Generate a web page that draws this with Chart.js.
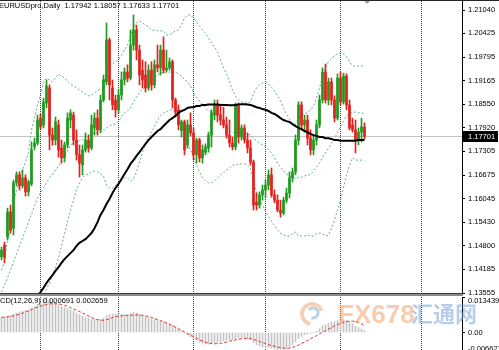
<!DOCTYPE html>
<html><head><meta charset="utf-8">
<script src="https://cdn.jsdelivr.net/npm/chart.js@4/dist/chart.umd.min.js"></script>
<style>
html,body{margin:0;padding:0;background:#fff;overflow:hidden;}
#wrap{position:relative;width:499px;height:350px;overflow:hidden;}
#main{position:absolute;left:0;top:0;}
#macd{position:absolute;left:0;top:293px;}
</style></head><body>
<div id="wrap"><canvas id="main" width="499" height="300"></canvas><canvas id="macd" width="499" height="57"></canvas></div>
<script>
const symbolTitle = 'EURUSDpro,Daily';
const lastQuote = [1.17942, 1.18057, 1.17633, 1.17701];
const macdTitle = 'MACD(12,26,9)';
const macdLast = ['0.000691', '0.002659'];
const watermarkLatin = 'FX678';
const watermarkCJK = '汇通网';

const opens = [1.1451,1.1482,1.1504,1.1570,1.1527,1.1647,1.1668,1.1639,1.1660,1.1623,
1.1644,1.1742,1.1752,1.1818,1.1800,1.1858,1.1898,1.1773,1.1760,1.1800,
1.1739,1.1713,1.1747,1.1813,1.1826,1.1760,1.1721,1.1694,1.1734,1.1760,
1.1739,1.1792,1.1818,1.1787,1.1866,1.1914,1.2025,1.1898,1.1866,1.1840,
1.1879,1.1919,1.1940,1.1924,1.2011,1.2051,1.1998,1.1945,1.1932,1.1898,
1.1945,1.1906,1.1959,1.1951,1.1998,1.1945,1.1951,1.1967,1.1866,1.1840,
1.1785,1.1808,1.1747,1.1800,1.1779,1.1721,1.1760,1.1713,1.1728,1.1739,
1.1773,1.1826,1.1853,1.1826,1.1813,1.1800,1.1773,1.1752,1.1742,1.1850,
1.1768,1.1792,1.1760,1.1739,1.1702,1.1596,1.1588,1.1615,1.1628,1.1641,
1.1668,1.1615,1.1601,1.1575,1.1567,1.1601,1.1620,1.1660,1.1676,1.1760,
1.1853,1.1800,1.1813,1.1765,1.1734,1.1760,1.1800,1.1866,1.1940,1.1866,
1.1914,1.1866,1.1818,1.1924,1.1861,1.1929,1.1853,1.1800,1.1787,1.1760,
1.1781,1.17942];
const highs = [1.1477,1.1490,1.1580,1.1588,1.1654,1.1676,1.1676,1.1681,1.1668,1.1654,
1.1755,1.1765,1.1826,1.1829,1.1871,1.1919,1.1906,1.1792,1.1821,1.1813,
1.1760,1.1755,1.1832,1.1840,1.1834,1.1787,1.1747,1.1747,1.1779,1.1773,
1.1826,1.1832,1.1840,1.1879,1.1932,1.2070,1.2030,1.1919,1.1879,1.1892,
1.1940,1.1951,1.1959,1.2051,1.2091,1.2064,1.2011,1.1972,1.1967,1.1959,
1.1967,1.1972,1.2011,1.2011,1.2033,1.1998,1.1977,1.1972,1.1871,1.1853,
1.1813,1.1813,1.1813,1.1832,1.1792,1.1765,1.1765,1.1747,1.1750,1.1781,
1.1840,1.1866,1.1866,1.1855,1.1847,1.1821,1.1813,1.1768,1.1858,1.1858,
1.1800,1.1800,1.1779,1.1760,1.1707,1.1620,1.1623,1.1641,1.1654,1.1681,
1.1686,1.1628,1.1615,1.1601,1.1609,1.1633,1.1676,1.1686,1.1773,1.1861,
1.1861,1.1826,1.1826,1.1787,1.1773,1.1813,1.1879,1.1951,1.1961,1.1924,
1.1924,1.1877,1.1935,1.1940,1.1937,1.1935,1.1866,1.1818,1.1813,1.1792,
1.1818,1.18057];
const lows = [1.1443,1.1435,1.1496,1.1514,1.1509,1.1639,1.1628,1.1633,1.1612,1.1612,
1.1639,1.1734,1.1747,1.1787,1.1792,1.1845,1.1734,1.1747,1.1747,1.1715,
1.1699,1.1702,1.1739,1.1792,1.1747,1.1707,1.1662,1.1668,1.1728,1.1728,
1.1734,1.1773,1.1773,1.1779,1.1861,1.1906,1.1866,1.1840,1.1821,1.1832,
1.1866,1.1906,1.1914,1.1919,1.1998,1.1972,1.1906,1.1898,1.1887,1.1892,
1.1892,1.1898,1.1940,1.1932,1.1937,1.1940,1.1945,1.1845,1.1821,1.1787,
1.1768,1.1721,1.1739,1.1771,1.1707,1.1699,1.1702,1.1699,1.1721,1.1728,
1.1742,1.1813,1.1808,1.1800,1.1792,1.1765,1.1742,1.1734,1.1734,1.1752,
1.1760,1.1752,1.1726,1.1694,1.1575,1.1575,1.1580,1.1601,1.1607,1.1628,
1.1609,1.1594,1.1570,1.1556,1.1562,1.1594,1.1607,1.1649,1.1668,1.1747,
1.1787,1.1781,1.1747,1.1721,1.1721,1.1747,1.1792,1.1858,1.1858,1.1853,
1.1853,1.1808,1.1813,1.1853,1.1855,1.1840,1.1787,1.1781,1.1726,1.1747,
1.1755,1.17633];
const closes = [1.1469,1.1451,1.1570,1.1522,1.1647,1.1668,1.1639,1.1660,1.1623,1.1649,
1.1734,1.1752,1.1813,1.1795,1.1861,1.1903,1.1773,1.1760,1.1808,1.1734,
1.1713,1.1747,1.1818,1.1832,1.1760,1.1721,1.1699,1.1734,1.1760,1.1739,
1.1800,1.1818,1.1787,1.1866,1.1919,1.2025,1.1906,1.1853,1.1840,1.1879,
1.1919,1.1940,1.1924,1.2011,1.2051,1.1998,1.1932,1.1919,1.1898,1.1945,
1.1906,1.1959,1.1951,1.1998,1.1945,1.1951,1.1967,1.1866,1.1834,1.1800,
1.1808,1.1734,1.1800,1.1779,1.1721,1.1760,1.1713,1.1734,1.1742,1.1773,
1.1832,1.1853,1.1826,1.1813,1.1800,1.1773,1.1752,1.1742,1.1850,1.1768,
1.1792,1.1760,1.1739,1.1702,1.1588,1.1588,1.1615,1.1628,1.1641,1.1668,
1.1615,1.1601,1.1575,1.1567,1.1601,1.1620,1.1660,1.1676,1.1760,1.1853,
1.1800,1.1813,1.1765,1.1734,1.1760,1.1800,1.1866,1.1940,1.1866,1.1914,
1.1866,1.1818,1.1924,1.1861,1.1929,1.1853,1.1792,1.1787,1.1760,1.1781,
1.1795,1.17701];

const movingAvg = [null,null,null,null,null,null,null,null,null,null,
1.1324,1.1337,1.1348,1.1358,1.1369,1.1382,1.1393,1.1403,1.1414,1.1424,
1.1435,1.1445,1.1453,1.1461,1.1469,1.1480,1.1488,1.1493,1.1498,1.1506,
1.1514,1.1527,1.1543,1.1562,1.1575,1.1591,1.1604,1.1620,1.1633,1.1644,
1.1657,1.1670,1.1683,1.1697,1.1707,1.1718,1.1728,1.1739,1.1750,1.1760,
1.1768,1.1776,1.1784,1.1789,1.1797,1.1805,1.1813,1.1818,1.1824,1.1832,
1.1837,1.1840,1.1845,1.1847,1.1847,1.1850,1.1850,1.1853,1.1853,1.1854,
1.1854,1.1854,1.1854,1.1853,1.1853,1.1853,1.1852,1.1852,1.1853,1.1854,
1.1855,1.1855,1.1854,1.1853,1.1850,1.1847,1.1845,1.1842,1.1840,1.1837,
1.1832,1.1829,1.1824,1.1818,1.1813,1.1810,1.1808,1.1802,1.1797,1.1792,
1.1789,1.1784,1.1781,1.1776,1.1773,1.1771,1.1768,1.1768,1.1765,1.1765,
1.1763,1.1760,1.1760,1.1758,1.1758,1.1758,1.1758,1.1758,1.1758,1.1760,
1.1760,1.1760];
const bbUpper = [1.1416,1.1438,1.1496,1.1517,1.1588,1.1628,1.1654,1.1681,1.1702,1.1728,
1.1787,1.1818,1.1853,1.1879,1.1914,1.1924,1.1919,1.1914,1.1924,1.1935,
1.1929,1.1924,1.1916,1.1908,1.1903,1.1898,1.1892,1.1887,1.1882,1.1877,
1.1879,1.1885,1.1890,1.1895,1.1903,1.1940,1.1956,1.1961,1.1967,1.1972,
1.1985,1.1998,1.2011,1.2038,1.2056,1.2070,1.2075,1.2070,1.2064,1.2059,
1.2051,1.2051,1.2049,1.2049,1.2049,1.2038,1.2038,1.2043,1.2049,1.2051,
1.2064,1.2083,1.2091,1.2091,1.2083,1.2072,1.2062,1.2051,1.2043,1.2030,
1.2017,1.2006,1.1993,1.1972,1.1951,1.1935,1.1914,1.1892,1.1877,1.1866,
1.1861,1.1858,1.1858,1.1861,1.1882,1.1898,1.1906,1.1911,1.1914,1.1908,
1.1900,1.1890,1.1877,1.1863,1.1845,1.1829,1.1816,1.1805,1.1802,1.1818,
1.1824,1.1829,1.1834,1.1840,1.1850,1.1871,1.1898,1.1929,1.1951,1.1967,
1.1977,1.1982,1.1988,1.1990,1.1988,1.1980,1.1967,1.1956,1.1956,1.1956,
1.1956,1.1953];
const bbMiddle = [1.1358,1.1377,1.1395,1.1416,1.1438,1.1459,1.1480,1.1501,1.1522,1.1543,
1.1564,1.1586,1.1607,1.1620,1.1633,1.1647,1.1660,1.1670,1.1681,1.1691,
1.1705,1.1718,1.1731,1.1747,1.1752,1.1755,1.1758,1.1760,1.1768,1.1773,
1.1776,1.1779,1.1779,1.1781,1.1784,1.1792,1.1797,1.1802,1.1802,1.1810,
1.1821,1.1832,1.1837,1.1845,1.1861,1.1874,1.1885,1.1895,1.1900,1.1911,
1.1916,1.1924,1.1932,1.1937,1.1940,1.1937,1.1940,1.1940,1.1940,1.1935,
1.1929,1.1919,1.1914,1.1903,1.1885,1.1874,1.1863,1.1853,1.1845,1.1837,
1.1834,1.1829,1.1821,1.1813,1.1805,1.1797,1.1787,1.1779,1.1781,1.1779,
1.1779,1.1779,1.1776,1.1773,1.1765,1.1758,1.1752,1.1747,1.1742,1.1736,
1.1726,1.1713,1.1699,1.1689,1.1678,1.1670,1.1665,1.1662,1.1657,1.1662,
1.1662,1.1665,1.1668,1.1668,1.1678,1.1689,1.1699,1.1715,1.1726,1.1739,
1.1752,1.1763,1.1781,1.1795,1.1810,1.1824,1.1829,1.1834,1.1834,1.1832,
1.1832,1.1829];
const bbLower = [1.1258,1.1263,1.1268,1.1274,1.1279,1.1284,1.1289,1.1295,1.1300,1.1305,
1.1311,1.1321,1.1332,1.1342,1.1350,1.1366,1.1382,1.1403,1.1424,1.1448,
1.1480,1.1512,1.1543,1.1575,1.1601,1.1628,1.1647,1.1660,1.1668,1.1670,
1.1676,1.1678,1.1676,1.1670,1.1665,1.1641,1.1633,1.1633,1.1639,1.1649,
1.1652,1.1660,1.1660,1.1652,1.1657,1.1676,1.1702,1.1728,1.1750,1.1768,
1.1781,1.1797,1.1813,1.1824,1.1832,1.1834,1.1840,1.1840,1.1832,1.1821,
1.1800,1.1768,1.1747,1.1734,1.1715,1.1694,1.1676,1.1660,1.1652,1.1647,
1.1647,1.1652,1.1660,1.1668,1.1673,1.1681,1.1686,1.1694,1.1694,1.1697,
1.1697,1.1697,1.1694,1.1686,1.1649,1.1623,1.1604,1.1588,1.1572,1.1559,
1.1546,1.1533,1.1522,1.1514,1.1509,1.1506,1.1506,1.1512,1.1517,1.1506,
1.1506,1.1506,1.1509,1.1506,1.1506,1.1512,1.1514,1.1512,1.1506,1.1509,
1.1527,1.1549,1.1575,1.1601,1.1633,1.1668,1.1694,1.1713,1.1707,1.1707,
1.1707,1.1705];

const macdMain = [0.0056,0.0058,0.0062,0.0064,0.0070,0.0074,0.0077,0.0080,0.0083,0.0085,
0.0092,0.0098,0.0106,0.0114,0.0126,0.0134,0.0126,0.0118,0.0110,0.0104,
0.0098,0.0094,0.0090,0.0086,0.0080,0.0074,0.0068,0.0062,0.0056,0.0053,
0.0050,0.0050,0.0048,0.0049,0.0054,0.0064,0.0068,0.0069,0.0070,0.0069,
0.0069,0.0069,0.0068,0.0072,0.0076,0.0074,0.0070,0.0065,0.0060,0.0056,
0.0052,0.0049,0.0046,0.0044,0.0040,0.0036,0.0032,0.0026,0.0020,0.0013,
0.0006,-0.0002,-0.0009,-0.0016,-0.0024,-0.0030,-0.0036,-0.0040,-0.0043,-0.0044,
-0.0043,-0.0040,-0.0037,-0.0034,-0.0031,-0.0029,-0.0028,-0.0027,-0.0023,-0.0022,
-0.0021,-0.0021,-0.0023,-0.0027,-0.0038,-0.0046,-0.0051,-0.0055,-0.0057,-0.0057,
-0.0059,-0.0062,-0.0065,-0.0066,-0.0064,-0.0060,-0.0054,-0.0048,-0.0036,-0.0022,
-0.0014,-0.0008,-0.0005,-0.0003,0.0000,0.0005,0.0014,0.0025,0.0029,0.0035,
0.0040,0.0040,0.0045,0.0045,0.0048,0.0046,0.0040,0.0033,0.0024,0.0018,
0.0013,0.000691];
const macdSignal = [0.0057,0.0058,0.0059,0.0061,0.0063,0.0066,0.0069,0.0073,0.0077,0.0082,
0.0087,0.0092,0.0096,0.0100,0.0103,0.0106,0.0108,0.0109,0.0109,0.0108,
0.0106,0.0103,0.0099,0.0094,0.0089,0.0084,0.0079,0.0074,0.0068,0.0062,
0.0057,0.0052,0.0049,0.0047,0.0046,0.0048,0.0052,0.0056,0.0060,0.0062,
0.0063,0.0064,0.0064,0.0065,0.0066,0.0067,0.0066,0.0065,0.0063,0.0060,
0.0057,0.0053,0.0049,0.0045,0.0041,0.0036,0.0031,0.0026,0.0020,0.0014,
0.0008,0.0002,-0.0004,-0.0010,-0.0016,-0.0022,-0.0028,-0.0033,-0.0037,-0.0040,
-0.0042,-0.0043,-0.0042,-0.0041,-0.0039,-0.0036,-0.0033,-0.0030,-0.0028,-0.0026,
-0.0024,-0.0023,-0.0022,-0.0023,-0.0026,-0.0030,-0.0034,-0.0038,-0.0042,-0.0046,
-0.0049,-0.0052,-0.0055,-0.0057,-0.0059,-0.0060,-0.0059,-0.0057,-0.0053,-0.0048,
-0.0042,-0.0036,-0.0030,-0.0024,-0.0018,-0.0012,-0.0006,0.0001,0.0007,0.0013,
0.0019,0.0025,0.0030,0.0034,0.0038,0.0041,0.0043,0.0043,0.0041,0.0038,
0.0033,0.002659];

const priceTicks = [1.21040,1.20425,1.19795,1.19165,1.18550,1.17920,1.17305,1.16675,1.16045,1.15430,1.14800,1.14185,1.13555];
const priceRange = [1.13555, 1.212781];
const macdTicks = [0.013439, 0, -0.006627];
const macdTickLabels = ['0.013439', '0.00', '-0.006627'];
const gridBars = [13, 39, 64, 88, 113, 140];
const SLOTS = 154;
const labels = Array.from({length: SLOTS}, (_, i) => 'D' + i);

const FONT = '"Liberation Sans", Arial, sans-serif';
const UP = '#1f9a1f', DN = '#e3211c';
const candleColors = closes.map((c, i) => c >= opens[i] ? UP : DN);
const BB = '#62ae90';

function noPad(s){ s.paddingTop = 0; s.paddingBottom = 0; }

function drawGrid(chart){
  const {ctx, chartArea: a, scales: {x}} = chart;
  ctx.save();
  ctx.strokeStyle = '#404040'; ctx.lineWidth = 1; ctx.setLineDash([1, 1]);
  gridBars.forEach(i => {
    const gx = Math.floor(x.getPixelForValue(i)) + 0.5;
    ctx.beginPath(); ctx.moveTo(gx, a.top); ctx.lineTo(gx, a.bottom); ctx.stroke();
  });
  ctx.restore();
}

const mainDecor = {
  id: 'mainDecor',
  beforeDatasetsDraw(chart){
    const {ctx, chartArea: a, scales: {y}} = chart;
    drawGrid(chart);
    ctx.save();
    const py = Math.round(y.getPixelForValue(lastQuote[3])) + 0.5;
    ctx.strokeStyle = '#c4c4c4'; ctx.lineWidth = 1;
    ctx.beginPath(); ctx.moveTo(a.left, py); ctx.lineTo(a.right, py); ctx.stroke();
    ctx.restore();
  },
  afterDraw(chart){
    const {ctx, chartArea: a, scales: {y}} = chart;
    ctx.save();
    // window top edge
    ctx.fillStyle = '#262626'; ctx.fillRect(0, 0, chart.width, 1);
    // chart shift marker
    ctx.fillStyle = '#a0a0a0';
    ctx.beginPath(); ctx.moveTo(364, 1); ctx.lineTo(370, 1); ctx.lineTo(367, 4); ctx.closePath(); ctx.fill();
    // title
    ctx.fillStyle = '#000'; ctx.font = '7.5px ' + FONT; ctx.textBaseline = 'middle'; ctx.textAlign = 'left';
    ctx.fillText(symbolTitle + '  ' + lastQuote.map(v => v.toFixed(5)).join(' '), -1, 6);
    // current price box
    const py = Math.round(y.getPixelForValue(lastQuote[3]));
    ctx.fillStyle = '#000'; ctx.fillRect(a.right + 1, py - 5, 35, 11);
    ctx.fillStyle = '#fff'; ctx.fillText(lastQuote[3].toFixed(5), a.right + 6, py + 0.5);
    // separator between panels
    ctx.fillStyle = '#8a8a8a'; ctx.fillRect(0, a.bottom, a.right + 1, 3);
    ctx.fillStyle = '#3c3c3c'; ctx.fillRect(0, a.bottom, a.right + 1, 1);
    ctx.restore();
  }
};

new Chart(document.getElementById('main'), {
  type: 'bar',
  data: {
    labels,
    datasets: [
      {type: 'line', data: bbUpper, borderColor: BB, borderWidth: 1, borderDash: [2, 2], pointRadius: 0, fill: false, order: 4},
      {type: 'line', data: bbMiddle, borderColor: BB, borderWidth: 1, borderDash: [2, 2], pointRadius: 0, fill: false, order: 4},
      {type: 'line', data: bbLower, borderColor: BB, borderWidth: 1, borderDash: [2, 2], pointRadius: 0, fill: false, order: 4},
      {type: 'bar', data: lows.map((l, i) => [l, highs[i]]), backgroundColor: candleColors, barThickness: 1, grouped: false, order: 3},
      {type: 'bar', data: opens.map((o, i) => [o, closes[i]]), backgroundColor: candleColors, barThickness: 2, minBarLength: 1, grouped: false, order: 2},
      {type: 'line', data: movingAvg, borderColor: '#000', borderWidth: 2, pointRadius: 0, fill: false, order: 1}
    ]
  },
  options: {
    responsive: false, animation: false, devicePixelRatio: 1,
    layout: {padding: {top: 1, bottom: 7, left: 0, right: 0}},
    plugins: {legend: {display: false}, tooltip: {enabled: false}},
    scales: {
      x: {display: false, offset: true},
      y: {
        position: 'right', min: priceRange[0], max: priceRange[1],
        afterBuildTicks: s => { s.ticks = priceTicks.map(v => ({value: v})); },
        afterFit: s => { s.width = 37; noPad(s); },
        ticks: {callback: v => Number(v).toFixed(5), font: {family: FONT, size: 7.5}, color: '#000', padding: 3},
        grid: {drawOnChartArea: false, tickLength: 3, color: '#000'},
        border: {color: '#000', width: 1}
      }
    }
  },
  plugins: [mainDecor]
});

const macdDecor = {
  id: 'macdDecor',
  beforeDatasetsDraw(chart){ drawGrid(chart); },
  afterDraw(chart){
    const {ctx, chartArea: a, scales: {y}} = chart;
    ctx.save();
    ctx.font = '7.5px ' + FONT; ctx.fillStyle = '#000'; ctx.textBaseline = 'middle'; ctx.textAlign = 'left';
    macdTicks.forEach((v, k) => {
      const py = y.getPixelForValue(v);
      const cy = Math.min(Math.max(py, a.top + 3), a.bottom - 2);
      ctx.fillText(macdTickLabels[k], a.right + 6, cy + 0.5);
    });
    const hide = ctx.measureText('MA').width;
    ctx.fillText(macdTitle + ' ' + macdLast.join(' '), -hide, a.top + 4);
    // watermark
    ctx.globalAlpha = 0.5;
    ctx.lineWidth = 4;
    ctx.strokeStyle = '#f0a070';
    ctx.beginPath(); ctx.arc(312, 21, 10, Math.PI * 0.55, Math.PI * 1.9); ctx.stroke();
    ctx.strokeStyle = '#7aa3d8'; ctx.lineWidth = 3;
    ctx.beginPath(); ctx.arc(313, 20, 5, Math.PI * 1.2, Math.PI * 2.6); ctx.stroke();
    ctx.textBaseline = 'alphabetic';
    ctx.fillStyle = '#f39a60';
    ctx.font = 'bold 26px "Liberation Sans Narrow", ' + FONT;
    ctx.fillText(watermarkLatin, 338, 30);
    ctx.fillStyle = '#6f9bd6';
    ctx.font = 'bold 22px "Noto Sans CJK SC"';
    ctx.fillText(watermarkCJK, 411, 29);
    ctx.restore();
  }
};

new Chart(document.getElementById('macd'), {
  type: 'bar',
  data: {
    labels,
    datasets: [
      {type: 'line', data: macdSignal, borderColor: '#e0302a', borderWidth: 1, borderDash: [3, 2], pointRadius: 0, fill: false, order: 1},
      {type: 'bar', data: macdMain, backgroundColor: '#c4c4c4', barThickness: 1, grouped: false, order: 2}
    ]
  },
  options: {
    responsive: false, animation: false, devicePixelRatio: 1,
    layout: {padding: {top: 4, bottom: 0, left: 0, right: 0}},
    plugins: {legend: {display: false}, tooltip: {enabled: false}},
    scales: {
      x: {display: false, offset: true},
      y: {
        position: 'right', min: macdTicks[2], max: macdTicks[0],
        afterBuildTicks: s => { s.ticks = macdTicks.map(v => ({value: v})); },
        afterFit: s => { s.width = 37; noPad(s); },
        ticks: {display: false},
        grid: {drawOnChartArea: false, tickLength: 3, color: '#000'},
        border: {color: '#000', width: 1}
      }
    }
  },
  plugins: [macdDecor]
});
</script>
</body></html>
